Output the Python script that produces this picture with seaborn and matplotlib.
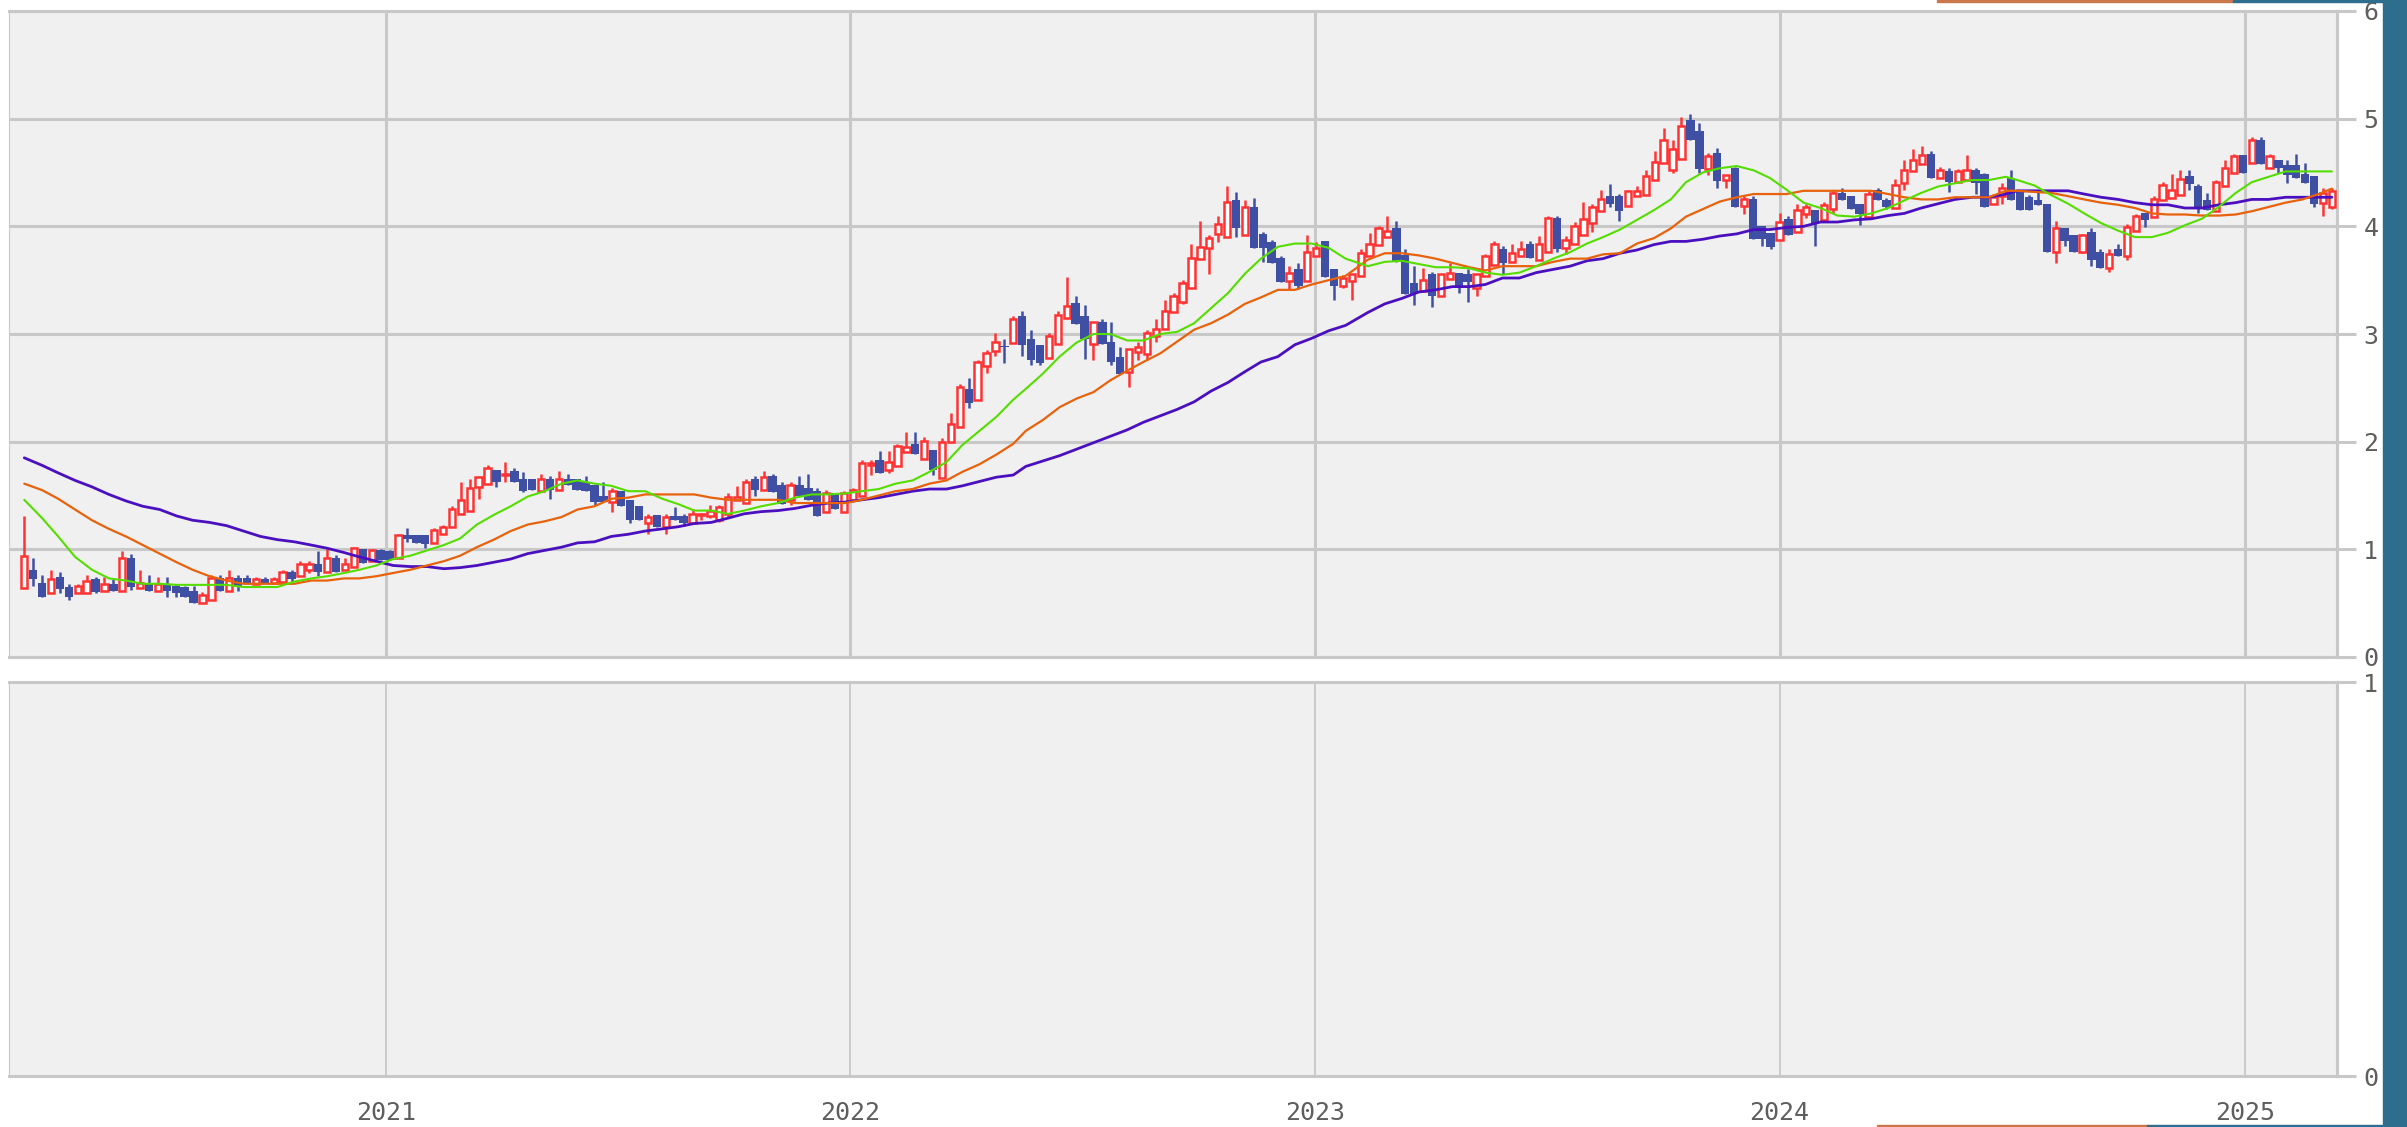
import numpy as np
import pandas as pd
import matplotlib
matplotlib.use("Agg")
import matplotlib.pyplot as plt
import matplotlib.dates as mdates
from matplotlib.patches import Rectangle
import seaborn as sns

# weekly candles, first week 2020-03-23
start = "2020-03-23"

opens = [
    .64, .81, .69, .59, .74, .65, .59, .59, .72, .61,
    .68, .61, .92, .64, .68, .61, .68, .66, .65, .61,
    .50, .53, .73, .61, .73, .73, .68, .72, .69, .70,
    .79, .75, .81, .86, .79, .92, .81, .84, 1.0, .89,
    .99, .98, .92, 1.13, 1.13, 1.13, 1.06, 1.14, 1.21, 1.33,
    1.36, 1.58, 1.61, 1.74, 1.69, 1.73, 1.65, 1.65, 1.54, 1.65,
    1.55, 1.65, 1.65, 1.63, 1.60, 1.50, 1.44, 1.54, 1.46, 1.40,
    1.24, 1.32, 1.21, 1.31, 1.31, 1.24, 1.32, 1.31, 1.27, 1.33,
    1.46, 1.43, 1.65, 1.55, 1.68, 1.60, 1.46, 1.60, 1.57, 1.54,
    1.35, 1.52, 1.35, 1.46, 1.50, 1.78, 1.83, 1.74, 1.77, 1.90,
    1.98, 1.84, 1.92, 1.66, 2.00, 2.14, 2.49, 2.39, 2.70, 2.84,
    2.89, 2.92, 3.17, 2.95, 2.90, 2.78, 2.91, 3.15, 3.29, 3.17,
    2.91, 3.11, 2.93, 2.79, 2.65, 2.83, 2.81, 2.98, 3.05, 3.20,
    3.30, 3.43, 3.70, 3.80, 3.93, 3.90, 4.24, 3.92, 4.18, 3.93,
    3.85, 3.71, 3.49, 3.60, 3.49, 3.72, 3.86, 3.60, 3.45, 3.49,
    3.54, 3.72, 3.83, 3.90, 3.98, 3.73, 3.47, 3.40, 3.56, 3.35,
    3.51, 3.57, 3.56, 3.43, 3.54, 3.64, 3.79, 3.67, 3.72, 3.84,
    3.69, 3.76, 4.08, 3.80, 3.84, 3.92, 4.03, 4.14, 4.28, 4.28,
    4.19, 4.28, 4.29, 4.43, 4.59, 4.52, 4.63, 4.99, 4.89, 4.53,
    4.68, 4.43, 4.54, 4.19, 4.25, 4.00, 3.94, 3.87, 4.07, 3.95,
    4.11, 4.15, 4.06, 4.16, 4.31, 4.28, 4.21, 4.09, 4.34, 4.24,
    4.17, 4.40, 4.51, 4.58, 4.67, 4.45, 4.51, 4.41, 4.43, 4.52,
    4.49, 4.21, 4.28, 4.45, 4.32, 4.27, 4.24, 4.21, 3.76, 3.98,
    3.92, 3.76, 3.95, 3.76, 3.61, 3.79, 3.72, 3.96, 4.12, 4.09,
    4.24, 4.26, 4.29, 4.47, 4.37, 4.24, 4.14, 4.37, 4.50, 4.66,
    4.59, 4.80, 4.54, 4.62, 4.57, 4.57, 4.49, 4.47, 4.22, 4.18,
]
highs = [
    1.31, .92, .76, .81, .79, .68, .68, .76, .74, .74,
    .72, .98, .96, .81, .76, .74, .74, .68, .66, .66,
    .60, .76, .76, .81, .76, .76, .74, .74, .74, .81,
    .81, .89, .89, .98, 1.0, .95, .92, 1.02, 1.0, 1.0,
    1.0, .99, 1.14, 1.20, 1.13, 1.13, 1.20, 1.23, 1.40, 1.63,
    1.65, 1.68, 1.78, 1.74, 1.81, 1.76, 1.72, 1.65, 1.70, 1.68,
    1.73, 1.70, 1.65, 1.68, 1.60, 1.63, 1.57, 1.54, 1.46, 1.40,
    1.33, 1.32, 1.33, 1.39, 1.33, 1.37, 1.34, 1.41, 1.41, 1.52,
    1.59, 1.65, 1.68, 1.73, 1.70, 1.63, 1.63, 1.68, 1.70, 1.57,
    1.55, 1.52, 1.54, 1.57, 1.83, 1.83, 1.91, 1.91, 1.98, 2.09,
    2.09, 2.04, 1.92, 2.03, 2.27, 2.54, 2.59, 2.76, 2.85, 3.01,
    2.95, 3.17, 3.21, 3.04, 2.90, 3.01, 3.21, 3.53, 3.35, 3.27,
    3.11, 3.14, 3.11, 2.88, 2.86, 2.93, 3.04, 3.14, 3.32, 3.38,
    3.50, 3.84, 4.05, 3.92, 4.10, 4.37, 4.32, 4.24, 4.26, 3.95,
    3.87, 3.72, 3.63, 3.66, 3.92, 3.85, 3.86, 3.60, 3.55, 3.56,
    3.79, 3.94, 4.00, 4.10, 4.05, 3.79, 3.63, 3.61, 3.58, 3.56,
    3.66, 3.57, 3.60, 3.56, 3.74, 3.86, 3.82, 3.84, 3.86, 3.86,
    3.91, 4.10, 4.10, 3.91, 4.04, 4.23, 4.21, 4.34, 4.39, 4.30,
    4.34, 4.37, 4.52, 4.70, 4.91, 4.80, 5.02, 5.04, 4.96, 4.68,
    4.73, 4.48, 4.55, 4.28, 4.28, 4.00, 3.94, 4.12, 4.10, 4.21,
    4.21, 4.15, 4.23, 4.33, 4.36, 4.28, 4.21, 4.34, 4.36, 4.26,
    4.44, 4.62, 4.72, 4.75, 4.70, 4.55, 4.54, 4.53, 4.66, 4.54,
    4.50, 4.30, 4.40, 4.52, 4.32, 4.29, 4.32, 4.21, 4.05, 3.98,
    3.92, 3.93, 3.98, 3.79, 3.79, 3.84, 4.02, 4.11, 4.12, 4.28,
    4.41, 4.49, 4.52, 4.52, 4.39, 4.31, 4.43, 4.62, 4.67, 4.66,
    4.83, 4.83, 4.67, 4.62, 4.62, 4.67, 4.59, 4.47, 4.36, 4.36,
]
lows = [
    .64, .66, .56, .59, .59, .53, .59, .59, .59, .61,
    .61, .61, .62, .64, .61, .61, .56, .56, .56, .50,
    .50, .53, .61, .61, .61, .68, .68, .69, .69, .70,
    .69, .75, .78, .75, .79, .79, .81, .84, .87, .89,
    .90, .90, .92, 1.07, 1.06, 1.01, 1.06, 1.14, 1.21, 1.33,
    1.36, 1.47, 1.61, 1.58, 1.63, 1.63, 1.53, 1.55, 1.54, 1.47,
    1.55, 1.60, 1.55, 1.54, 1.41, 1.44, 1.35, 1.40, 1.24, 1.27,
    1.14, 1.21, 1.14, 1.27, 1.22, 1.24, 1.27, 1.29, 1.25, 1.29,
    1.46, 1.43, 1.50, 1.55, 1.53, 1.42, 1.41, 1.50, 1.46, 1.31,
    1.35, 1.37, 1.35, 1.46, 1.50, 1.69, 1.71, 1.71, 1.77, 1.90,
    1.89, 1.84, 1.69, 1.66, 2.00, 2.14, 2.31, 2.39, 2.64, 2.80,
    2.73, 2.92, 2.80, 2.71, 2.71, 2.78, 2.91, 3.14, 3.09, 2.77,
    2.76, 2.91, 2.71, 2.63, 2.51, 2.76, 2.76, 2.93, 3.05, 3.20,
    3.28, 3.43, 3.70, 3.56, 3.85, 3.90, 3.90, 3.92, 3.80, 3.67,
    3.66, 3.48, 3.42, 3.42, 3.49, 3.72, 3.53, 3.32, 3.43, 3.32,
    3.54, 3.72, 3.83, 3.90, 3.67, 3.37, 3.27, 3.40, 3.25, 3.35,
    3.51, 3.38, 3.30, 3.35, 3.54, 3.64, 3.56, 3.67, 3.72, 3.71,
    3.69, 3.76, 3.76, 3.74, 3.84, 3.92, 3.95, 4.14, 4.18, 4.05,
    4.19, 4.28, 4.29, 4.43, 4.59, 4.50, 4.63, 4.80, 4.50, 4.48,
    4.36, 4.36, 4.18, 4.11, 3.88, 3.82, 3.79, 3.87, 3.92, 3.95,
    4.08, 3.82, 4.06, 4.12, 4.24, 4.16, 4.01, 4.09, 4.24, 4.16,
    4.17, 4.34, 4.51, 4.58, 4.45, 4.45, 4.32, 4.41, 4.43, 4.30,
    4.18, 4.21, 4.21, 4.24, 4.15, 4.15, 4.20, 3.76, 3.66, 3.82,
    3.76, 3.75, 3.63, 3.61, 3.58, 3.72, 3.69, 3.96, 3.99, 4.09,
    4.24, 4.26, 4.29, 4.34, 4.12, 4.15, 4.14, 4.37, 4.50, 4.50,
    4.59, 4.58, 4.54, 4.50, 4.40, 4.45, 4.40, 4.18, 4.10, 4.16,
]
closes = [
    .94, .72, .56, .72, .63, .56, .66, .71, .60, .68,
    .61, .92, .65, .69, .61, .68, .61, .59, .56, .50,
    .58, .73, .61, .73, .65, .69, .72, .69, .72, .79,
    .72, .86, .86, .79, .92, .79, .86, 1.01, .87, .99,
    .90, .90, 1.13, 1.10, 1.06, 1.05, 1.18, 1.21, 1.37, 1.46,
    1.57, 1.67, 1.76, 1.63, 1.70, 1.63, 1.54, 1.55, 1.65, 1.55,
    1.65, 1.60, 1.55, 1.54, 1.44, 1.44, 1.54, 1.40, 1.27, 1.27,
    1.30, 1.21, 1.30, 1.27, 1.24, 1.33, 1.33, 1.36, 1.39, 1.49,
    1.49, 1.63, 1.55, 1.67, 1.53, 1.42, 1.60, 1.50, 1.46, 1.31,
    1.52, 1.37, 1.52, 1.55, 1.80, 1.80, 1.71, 1.81, 1.96, 1.95,
    1.89, 2.01, 1.74, 2.00, 2.16, 2.51, 2.36, 2.74, 2.82, 2.93,
    2.88, 3.14, 2.90, 2.76, 2.73, 2.98, 3.18, 3.26, 3.09, 2.95,
    3.11, 2.91, 2.74, 2.63, 2.86, 2.88, 3.01, 3.05, 3.21, 3.35,
    3.47, 3.71, 3.81, 3.89, 4.02, 4.23, 3.98, 4.18, 3.80, 3.80,
    3.66, 3.48, 3.57, 3.45, 3.76, 3.80, 3.53, 3.45, 3.52, 3.56,
    3.75, 3.84, 3.98, 3.96, 3.67, 3.37, 3.37, 3.50, 3.35, 3.56,
    3.57, 3.44, 3.48, 3.56, 3.72, 3.84, 3.66, 3.75, 3.79, 3.71,
    3.84, 4.08, 3.79, 3.87, 4.00, 4.07, 4.18, 4.25, 4.21, 4.14,
    4.33, 4.33, 4.47, 4.60, 4.80, 4.72, 4.93, 4.80, 4.53, 4.65,
    4.42, 4.48, 4.18, 4.25, 3.88, 3.88, 3.81, 4.04, 3.92, 4.15,
    4.18, 4.03, 4.20, 4.31, 4.24, 4.16, 4.11, 4.30, 4.24, 4.18,
    4.38, 4.52, 4.62, 4.66, 4.45, 4.52, 4.41, 4.51, 4.52, 4.40,
    4.18, 4.27, 4.36, 4.24, 4.15, 4.15, 4.20, 3.76, 3.98, 3.86,
    3.76, 3.92, 3.69, 3.61, 3.74, 3.72, 3.99, 4.10, 4.06, 4.25,
    4.38, 4.34, 4.44, 4.39, 4.16, 4.15, 4.41, 4.54, 4.65, 4.50,
    4.80, 4.58, 4.65, 4.54, 4.48, 4.45, 4.40, 4.21, 4.31, 4.33,
]

# moving averages, at these week offsets from start
ma_week = [
    0, 2.0, 3.8, 5.7, 7.6, 9.5, 11.4, 13.3, 15.2, 17.1, 18.9, 20.8, 22.7, 24.6, 26.5, 28.4, 30.3, 32.2, 34.0, 35.9,
    37.6, 39.5, 41.4, 43.3, 45.2, 47.1, 48.9, 50.8, 52.7, 54.6, 56.5, 58.4, 60.3, 62.1, 64.0, 65.9, 67.8, 69.7, 71.6, 73.4,
    75.2, 77.1, 79.0, 80.8, 82.7, 84.6, 86.5, 88.4, 90.3, 92.2, 94.0, 95.9, 97.8, 99.7, 101.6, 103.5, 105.3, 107.2, 109.1, 111.0,
    112.4, 114.3, 116.2, 118.1, 120.0, 121.9, 123.8, 125.6, 127.5, 129.4, 131.3, 133.2, 135.1, 137.0, 138.8, 140.7, 142.6, 144.5, 146.4, 148.3,
    150.8, 152.7, 154.6, 156.5, 158.4, 160.3, 162.2, 164.0, 165.9, 167.8, 169.7, 171.6, 173.5, 175.4, 177.2, 179.1, 181.0, 182.9, 184.8,
    186.5, 188.4, 190.3, 192.2, 194.1, 195.9, 197.8, 199.7, 201.6, 203.5, 205.4, 207.3, 209.2, 211.0, 212.9, 214.8, 216.7, 218.6, 220.5, 222.4,
    223.7, 225.6, 227.5, 229.4, 231.2, 233.1, 235.0, 236.9, 238.8, 240.6, 242.5, 244.4, 246.3, 248.2, 250.0, 251.9, 253.8, 255.7, 257.5, 259.0,
]
ma_short = [
    1.46, 1.29, 1.12, 0.93, 0.81, 0.73, 0.71, 0.68, 0.68, 0.67, 0.67, 0.67, 0.67, 0.65, 0.65, 0.65, 0.70, 0.73, 0.75, 0.78,
    0.81, 0.85, 0.91, 0.94, 0.99, 1.04, 1.10, 1.23, 1.32, 1.40, 1.49, 1.54, 1.61, 1.64, 1.61, 1.59, 1.54, 1.54, 1.47, 1.42,
    1.36, 1.36, 1.33, 1.36, 1.40, 1.43, 1.48, 1.51, 1.51, 1.52, 1.54, 1.56, 1.61, 1.64, 1.72, 1.81, 1.97, 2.10, 2.23, 2.39,
    2.49, 2.63, 2.79, 2.92, 3.00, 3.00, 2.94, 2.94, 3.00, 3.02, 3.10, 3.24, 3.38, 3.56, 3.70, 3.81, 3.84, 3.84, 3.80, 3.70,
    3.63, 3.67, 3.68, 3.65, 3.62, 3.62, 3.61, 3.57, 3.55, 3.57, 3.63, 3.70, 3.76, 3.84, 3.90, 3.97, 4.06, 4.15, 4.25,
    4.41, 4.50, 4.54, 4.56, 4.52, 4.45, 4.34, 4.22, 4.17, 4.10, 4.09, 4.12, 4.17, 4.24, 4.31, 4.37, 4.40, 4.43, 4.43, 4.46,
    4.43, 4.38, 4.29, 4.21, 4.12, 4.03, 3.96, 3.90, 3.90, 3.94, 4.01, 4.07, 4.18, 4.31, 4.41, 4.46, 4.51, 4.51, 4.51, 4.51,
]
ma_mid = [
    1.61, 1.55, 1.47, 1.37, 1.27, 1.19, 1.12, 1.04, 0.96, 0.88, 0.81, 0.75, 0.71, 0.68, 0.68, 0.68, 0.68, 0.71, 0.71, 0.73,
    0.73, 0.75, 0.78, 0.81, 0.85, 0.89, 0.94, 1.02, 1.09, 1.17, 1.23, 1.26, 1.30, 1.37, 1.40, 1.47, 1.48, 1.51, 1.51, 1.51,
    1.51, 1.48, 1.46, 1.46, 1.46, 1.46, 1.43, 1.43, 1.43, 1.43, 1.46, 1.50, 1.54, 1.56, 1.61, 1.64, 1.72, 1.79, 1.88, 1.98,
    2.10, 2.20, 2.32, 2.40, 2.46, 2.57, 2.66, 2.74, 2.82, 2.93, 3.04, 3.10, 3.18, 3.28, 3.34, 3.41, 3.41, 3.46, 3.50, 3.54,
    3.69, 3.75, 3.75, 3.73, 3.70, 3.66, 3.62, 3.59, 3.63, 3.63, 3.63, 3.67, 3.70, 3.70, 3.74, 3.75, 3.84, 3.89, 3.98,
    4.09, 4.16, 4.23, 4.27, 4.30, 4.30, 4.30, 4.33, 4.33, 4.33, 4.33, 4.33, 4.30, 4.27, 4.25, 4.25, 4.27, 4.27, 4.27, 4.33,
    4.33, 4.32, 4.31, 4.28, 4.25, 4.22, 4.20, 4.17, 4.12, 4.11, 4.11, 4.10, 4.10, 4.11, 4.14, 4.18, 4.22, 4.25, 4.30, 4.35,
]
ma_long = [
    1.85, 1.78, 1.71, 1.64, 1.58, 1.51, 1.45, 1.40, 1.37, 1.31, 1.27, 1.25, 1.22, 1.17, 1.12, 1.09, 1.07, 1.04, 1.01, 0.97,
    0.93, 0.89, 0.85, 0.84, 0.84, 0.82, 0.83, 0.85, 0.88, 0.91, 0.96, 0.99, 1.02, 1.06, 1.07, 1.12, 1.14, 1.17, 1.19, 1.21,
    1.24, 1.25, 1.29, 1.33, 1.35, 1.36, 1.38, 1.41, 1.43, 1.44, 1.46, 1.48, 1.51, 1.54, 1.56, 1.56, 1.59, 1.63, 1.67, 1.69,
    1.77, 1.82, 1.87, 1.93, 1.99, 2.05, 2.11, 2.18, 2.24, 2.30, 2.37, 2.47, 2.55, 2.65, 2.74, 2.79, 2.90, 2.96, 3.03, 3.08,
    3.20, 3.28, 3.33, 3.39, 3.41, 3.44, 3.44, 3.46, 3.52, 3.52, 3.57, 3.60, 3.63, 3.68, 3.70, 3.75, 3.78, 3.83, 3.86,
    3.86, 3.88, 3.91, 3.93, 3.97, 3.97, 3.99, 4.00, 4.04, 4.04, 4.06, 4.07, 4.10, 4.12, 4.17, 4.21, 4.25, 4.27, 4.27, 4.30,
    4.33, 4.33, 4.33, 4.33, 4.30, 4.27, 4.25, 4.22, 4.20, 4.20, 4.17, 4.17, 4.20, 4.22, 4.25, 4.25, 4.27, 4.27, 4.27, 4.27,
]

W, H = 2407, 1127
UP = "#ff3333"
DOWN = "#3f4fa3"
GRID = "#c8c8c8"
TXT = "#5e5e5e"

sns.set_theme(style="white")
plt.rcParams["font.family"] = ["DejaVu Sans Mono", "DejaVu Sans"]

df = pd.DataFrame({"date": pd.date_range(start, periods=len(closes), freq="7D"),
                   "open": opens, "high": highs, "low": lows, "close": closes})
df["up"] = df["close"] >= df["open"]
ma = pd.DataFrame({"date": pd.Timestamp(start) + pd.to_timedelta(np.array(ma_week) * 7, unit="D"),
                   "short": ma_short, "mid": ma_mid, "long": ma_long})

fig = plt.figure(figsize=(W / 100, H / 100), dpi=100)
fig.patch.set_facecolor("white")
ax1 = fig.add_axes([9 / W, 1 - 657 / H, 2328 / W, 646 / H])
ax2 = fig.add_axes([9 / W, 1 - 1076 / H, 2328 / W, 394 / H])

xmin = df["date"].iloc[0] - pd.Timedelta(days=12)
xmax = df["date"].iloc[-1] + pd.Timedelta(days=4)

for ax in (ax1, ax2):
    ax.set_facecolor("#f0f0f0")
    ax.set_xlim(xmin, xmax)
    ax.set_axisbelow(True)
    ax.xaxis.set_major_locator(mdates.YearLocator())
    ax.xaxis.set_major_formatter(mdates.DateFormatter("%Y"))
    ax.yaxis.tick_right()
    ax.tick_params(axis="y", length=14, width=2.2, color=GRID, labelcolor=TXT,
                   labelsize=18, pad=5)
    for side in ("top", "bottom", "right"):
        ax.spines[side].set_color(GRID)
        ax.spines[side].set_linewidth(2.2)
    ax.spines["left"].set_color(GRID)
    ax.spines["left"].set_linewidth(0.8)

# price panel
up = df[df["up"]]
dn = df[~df["up"]]
ax1.vlines(up["date"], up["low"], up["high"], color=UP, lw=1.8, zorder=2)
ax1.vlines(dn["date"], dn["low"], dn["high"], color=DOWN, lw=1.8, zorder=2)
ax1.bar(up["date"], (up["close"] - up["open"]).clip(lower=0.01), bottom=up["open"],
        width=5.0, facecolor="white", edgecolor=UP, linewidth=1.8, zorder=3)
ax1.bar(dn["date"], (dn["open"] - dn["close"]).clip(lower=0.01), bottom=dn["close"],
        width=6.6, color=DOWN, linewidth=0, zorder=3)

sns.lineplot(data=ma, x="date", y="long", ax=ax1, color="#4a10bf", lw=2.0, estimator=None, zorder=4)
sns.lineplot(data=ma, x="date", y="mid", ax=ax1, color="#e8620c", lw=1.6, estimator=None, zorder=4)
sns.lineplot(data=ma, x="date", y="short", ax=ax1, color="#55dd00", lw=1.5, estimator=None, zorder=4)

ax1.set_ylim(0, 6)
ax1.set_yticks(range(0, 7))
ax1.grid(axis="y", color=GRID, lw=2.2)
ax1.grid(axis="x", color=GRID, lw=2.2)
ax1.tick_params(axis="x", length=0, labelbottom=False)
ax1.set_xlabel("")
ax1.set_ylabel("")

# empty lower panel
ax2.set_ylim(0, 1)
ax2.set_yticks([0, 1])
ax2.grid(axis="x", color=GRID, lw=1.3)
ax2.grid(axis="y", visible=False)
ax2.tick_params(axis="x", length=12, width=1.3, color=GRID, labelcolor=TXT,
                labelsize=18, pad=6)
ax2.set_xlabel("")
ax2.set_ylabel("")

# screen edge strips
fig.patches.append(Rectangle((2383 / W, 0), 24 / W, 1, transform=fig.transFigure,
                             color="#2d6e8e", zorder=0))
fig.patches.append(Rectangle((1937 / W, 1 - 2 / H), 296 / W, 2 / H, transform=fig.transFigure,
                             color="#c8784a", zorder=0))
fig.patches.append(Rectangle((2233 / W, 1 - 2 / H), 150 / W, 2 / H, transform=fig.transFigure,
                             color="#2d6e8e", zorder=0))
fig.patches.append(Rectangle((1877 / W, 0), 270 / W, 2 / H, transform=fig.transFigure,
                             color="#c8784a", zorder=0))
fig.patches.append(Rectangle((2147 / W, 0), 236 / W, 2 / H, transform=fig.transFigure,
                             color="#2d6e8e", zorder=0))

fig.savefig("out.png", dpi=100, facecolor="white")
